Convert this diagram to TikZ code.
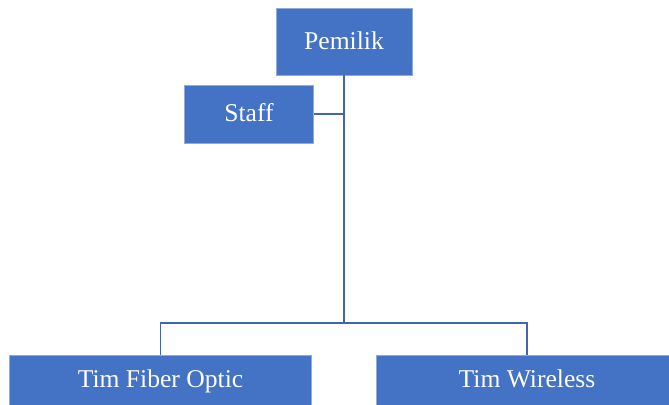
\documentclass[tikz,border=0pt]{standalone}
\usepackage{fontspec}
\setmainfont{Liberation Serif}
\usepackage{tikz}
\usetikzlibrary{positioning}

\definecolor{boxblue}{HTML}{4472C4}
\definecolor{boxedge}{HTML}{8FAADC}
\definecolor{linkblue}{HTML}{3F66AE}

\begin{document}
\begin{tikzpicture}[x=0.5pt,y=-0.5pt,
    orgbox/.style={draw=boxedge, fill=boxblue, text=white, inner sep=0pt, line width=0.4pt,
      text height=1.7ex, text depth=.05ex, font=\fontsize{12.8}{15}\selectfont},
    link/.style={draw=linkblue, line width=0.9pt}]
    \useasboundingbox (0,0) rectangle (669,404);
    %Nodes
    \node[orgbox, minimum width=68pt, minimum height=33.5pt] (pemilik) at (344,41.5) {Pemilik};
    \node[orgbox, minimum width=64.5pt, minimum height=29pt] (staff) at (249,114) {Staff};
    \node[orgbox, minimum width=151pt, minimum height=25pt] (fiber) at (160.5,380) {Tim Fiber Optic};
    \node[orgbox, minimum width=151pt, minimum height=25pt] (wireless) at (527,380) {Tim Wireless};
    \coordinate (bar) at (344,322.7);

    %Lines
    \draw[link] (pemilik.south) -- (bar);
    \draw[link] (staff.east) -- (staff.east -| pemilik.south);
    \draw[link] (fiber.north) |- (bar) -| (wireless.north);
\end{tikzpicture}
\end{document}
